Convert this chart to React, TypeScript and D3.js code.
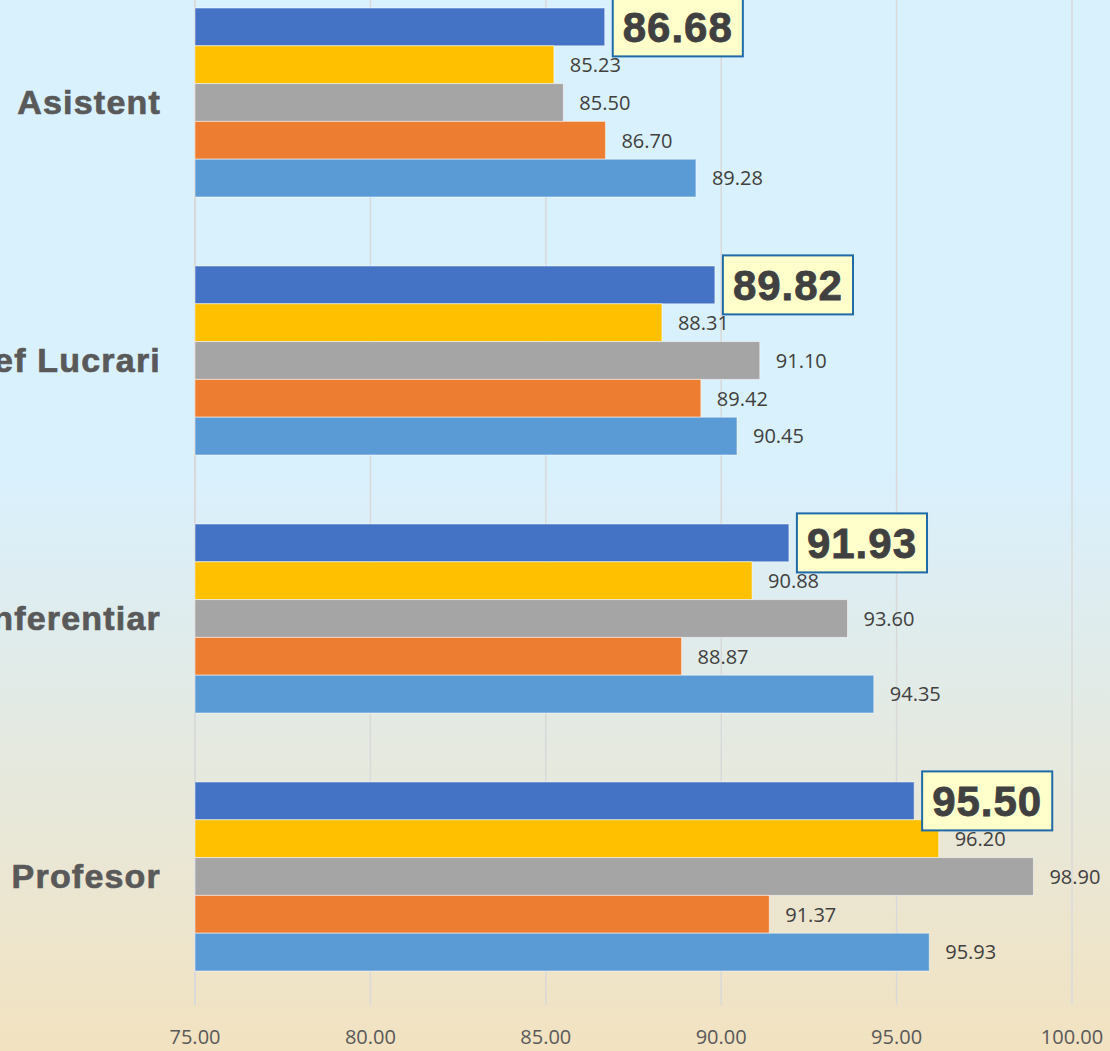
import React, { useEffect, useRef } from "react";
import * as d3 from "d3";

const categories = ["Asistent", "Sef Lucrari", "Conferentiar", "Profesor"];
const seriesNames = ["S1", "S2", "S3", "S4", "S5"];
const seriesColors = ["#4472C4", "#FFC000", "#A5A5A5", "#ED7D31", "#5B9BD5"];
const s1 = [86.68, 89.82, 91.93, 95.5];
const s2 = [85.23, 88.31, 90.88, 96.2];
const s3 = [85.5, 91.1, 93.6, 98.9];
const s4 = [86.7, 89.42, 88.87, 91.37];
const s5 = [89.28, 90.45, 94.35, 95.93];
const seriesValues = [s1, s2, s3, s4, s5];
const xTicks = [75, 80, 85, 90, 95, 100];

const W = 1110;
const H = 1051;

export default function App() {
  const ref = useRef<SVGSVGElement | null>(null);

  useEffect(() => {
    document.body.style.margin = "0";
    const svg = d3.select(ref.current);
    svg.selectAll("*").remove();

    const defs = svg.append("defs");
    const grad = defs
      .append("linearGradient")
      .attr("id", "bg")
      .attr("x1", 0)
      .attr("y1", 0)
      .attr("x2", 0)
      .attr("y2", 1);
    grad.append("stop").attr("offset", "0%").attr("stop-color", "#D9F0FD");
    grad.append("stop").attr("offset", "45%").attr("stop-color", "#D9F0FD");
    grad.append("stop").attr("offset", "100%").attr("stop-color", "#F2E2C0");

    svg.append("rect").attr("width", W).attr("height", H).attr("fill", "url(#bg)");

    const x = d3.scaleLinear().domain([75, 100]).range([195, 1072]);
    const y0 = d3
      .scaleBand()
      .domain(categories)
      .range([-26.5, 1005.5])
      .paddingInner(69 / 258)
      .paddingOuter(34.5 / 258);
    const y1 = d3.scaleBand().domain(seriesNames).range([0, y0.bandwidth()]);

    // gridlines
    svg
      .append("g")
      .selectAll("line")
      .data(xTicks)
      .join("line")
      .attr("x1", (d) => x(d))
      .attr("x2", (d) => x(d))
      .attr("y1", 0)
      .attr("y2", 1005)
      .attr("stroke", "#D9D9D9")
      .attr("stroke-width", (d) => (d === 75 ? 2 : 1.5));

    // tick labels
    svg
      .append("g")
      .selectAll("text")
      .data(xTicks)
      .join("text")
      .attr("x", (d) => x(d))
      .attr("y", 1044)
      .attr("text-anchor", "middle")
      .attr("font-family", "'Open Sans', sans-serif")
      .attr("font-size", 20)
      .attr("fill", "#595959")
      .text((d) => d.toFixed(2));

    // category labels
    svg
      .append("g")
      .selectAll("text")
      .data(categories)
      .join("text")
      .attr("x", 161)
      .attr("y", (d) => (y0(d) as number) + y0.bandwidth() / 2)
      .attr("dy", "0.35em")
      .attr("text-anchor", "end")
      .attr("font-family", "'Liberation Sans', Arial, sans-serif")
      .attr("font-weight", "bold")
      .attr("font-size", 34)
      .attr("letter-spacing", 1.2)
      .attr("fill", "#595959")
      .attr("stroke", "#595959")
      .attr("stroke-width", 0.7)
      .text((d) => d);

    // bars
    categories.forEach((cat, ci) => {
      const g = svg.append("g").attr("transform", `translate(0,${y0(cat)})`);
      seriesNames.forEach((sn, si) => {
        const v = seriesValues[si][ci];
        const by = y1(sn) as number;
        g.append("rect")
          .attr("x", x(75))
          .attr("y", by)
          .attr("width", x(v) - x(75))
          .attr("height", y1.bandwidth())
          .attr("fill", seriesColors[si])
          .attr("stroke", "rgba(255,255,255,0.5)")
          .attr("stroke-width", 1);
      });
    });

    // labels (drawn after bars)
    categories.forEach((cat, ci) => {
      const g = svg.append("g").attr("transform", `translate(0,${y0(cat)})`);
      seriesNames.forEach((sn, si) => {
        const v = seriesValues[si][ci];
        const cy = (y1(sn) as number) + y1.bandwidth() / 2;
        if (si === 0) {
          const bx = x(v) + 8;
          const rect = g
            .append("rect")
            .attr("x", bx)
            .attr("y", cy - 29.5)
            .attr("height", 59)
            .attr("fill", "#FFFFCC")
            .attr("stroke", "#1F6BA8")
            .attr("stroke-width", 2);
          const t = g
            .append("text")
            .attr("x", bx + 10)
            .attr("y", cy)
            .attr("dy", "0.36em")
            .attr("font-family", "'Liberation Sans', Arial, sans-serif")
            .attr("font-weight", "bold")
            .attr("font-size", 42)
            .attr("letter-spacing", 1)
            .attr("fill", "#404040")
            .attr("stroke", "#404040")
            .attr("stroke-width", 0.8)
            .text(v.toFixed(2));
          const tw = (t.node() as SVGTextElement).getComputedTextLength();
          rect.attr("width", tw + 20);
        } else {
          g.append("text")
            .attr("x", x(v) + 16)
            .attr("y", cy)
            .attr("dy", "0.36em")
            .attr("font-family", "'Open Sans', sans-serif")
            .attr("font-size", 20)
            .attr("fill", "#404040")
            .text(v.toFixed(2));
        }
      });
    });
  }, []);

  return <svg ref={ref} width={W} height={H} style={{ display: "block" }} />;
}
